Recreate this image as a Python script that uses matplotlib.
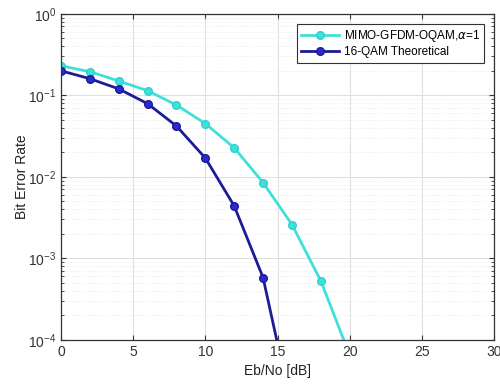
import matplotlib.pyplot as plt
from matplotlib.ticker import LogLocator, NullFormatter

plt.rcParams['font.family'] = ['Liberation Sans', 'DejaVu Sans']

snr_gfdm = [0, 2, 4, 6, 8, 10, 12, 14, 16, 18, 20]
ber_gfdm = [0.23, 0.195, 0.15, 0.114, 0.076, 0.045, 0.0227, 0.0085,
            0.0026, 5.3e-4, 6.5e-5]
snr_qam = [0, 2, 4, 6, 8, 10, 12, 14, 16]
ber_qam = [0.20, 0.16, 0.12, 0.079, 0.042, 0.017, 0.0044, 5.8e-4, 1.4e-5]


def main():
    fig = plt.figure(figsize=(5, 3.84), dpi=100)
    ax = fig.add_axes([0.122, 0.115, 0.866, 0.849])
    ax.semilogy(snr_gfdm, ber_gfdm, '-o', color='#40e0da', lw=2, ms=5.5,
                mfc='#40e0da', mec='#30d0d0',
                label=r'MIMO-GFDM-OQAM,$\alpha$=1')
    ax.semilogy(snr_qam, ber_qam, '-o', color='#1c1c96', lw=2, ms=5.5,
                mfc='#2a2ad0', mec='#1c1c96', label='16-QAM Theoretical')
    ax.set_xlim(0, 30)
    ax.set_ylim(1e-4, 1)
    ax.set_xticks([0, 5, 10, 15, 20, 25, 30])
    ax.yaxis.set_minor_locator(LogLocator(base=10, subs=range(2, 10)))
    ax.yaxis.set_minor_formatter(NullFormatter())
    ax.grid(True, which='major', color='#e0e0e0', lw=0.8)
    ax.grid(True, which='minor', axis='y', color='#e8e8e8', lw=0.6, ls=':')
    ax.tick_params(which='both', direction='in', top=True, right=True,
                   labelsize=10, colors='#333333')
    ax.tick_params(which='minor', length=2)
    for sp in ax.spines.values():
        sp.set_color('#333333')
        sp.set_linewidth(0.9)
    ax.set_xlabel('Eb/No [dB]', fontsize=10, color='#222222')
    ax.set_ylabel('Bit Error Rate', fontsize=10, color='#222222')
    ax.yaxis.set_label_coords(-0.075, 0.5)
    leg = ax.legend(loc='upper right', fontsize=8.5, fancybox=False,
                    framealpha=1, edgecolor='#333333', borderpad=0.35,
                    handlelength=3.2, handletextpad=0.4, labelspacing=0.2,
                    borderaxespad=0, bbox_to_anchor=(0.977, 0.969))
    leg.get_frame().set_linewidth(0.8)
    fig.savefig('out.png', dpi=100)


if __name__ == '__main__':
    main()
